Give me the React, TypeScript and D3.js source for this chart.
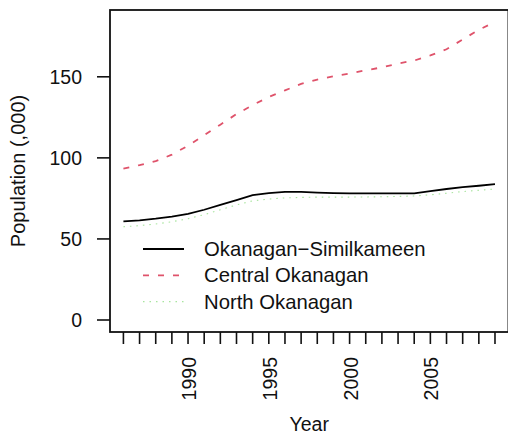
import React from "react";
import * as d3 from "d3";

const years = d3.range(1986, 2010);
const okanaganSimilkameen = [60.8, 61.5, 62.5, 63.8, 65.5, 68, 71, 74, 77, 78.3, 79, 79, 78.5, 78.2, 78.1, 78.1, 78.1, 78.1, 78.1, 79.5, 80.8, 82, 82.8, 83.8];
const centralOkanagan = [93.3, 95.5, 98, 102, 107.5, 114, 120.5, 127, 132.5, 137.6, 141.6, 145.6, 148.3, 150.4, 152, 154, 155.8, 158.2, 160, 163.2, 167, 173, 179, 183.8];
const northOkanagan = [57.5, 58.2, 59.2, 60.6, 62.5, 65, 68, 71, 73.5, 74.6, 75.3, 75.6, 75.8, 75.8, 75.8, 75.9, 76, 76.2, 76.5, 77.2, 78.2, 79.2, 80, 80.8];
const seriesNames = ["Okanagan\u2212Similkameen", "Central Okanagan", "North Okanagan"];
const seriesColors = ["#000000", "#DF536B", "#61D04F"];
const seriesDash = ["none", "6,9", "1.5,5"];
const seriesWidth = [1.8, 1.8, 1.1];
const seriesOpacity = [1, 1, 0.55];
const yTicks = [0, 50, 100, 150];
const xLabelTicks = [1990, 1995, 2000, 2005];

const W = 508;
const H = 437;
const FONT = "'Liberation Sans', Arial, Helvetica, sans-serif";

export default function App() {
  const left = 110, right = 508.4, top = 10, bottom = 332;
  const x = d3.scaleLinear().domain([1985.17, 2009.83]).range([left, right]);
  const y = d3.scaleLinear().domain([-7.4, 191.2]).range([bottom, top]);
  const allSeries = [okanaganSimilkameen, centralOkanagan, northOkanagan];
  const line = d3
    .line<number>()
    .x((_, i) => x(years[i]))
    .y((d) => y(d));
  const drawOrder = [0, 1, 2];
  return (
    <svg
      width={W}
      height={H}
      style={{ position: "absolute", left: 0, top: 0, background: "#fff" }}
      fontFamily={FONT}
    >
      <rect x={0} y={0} width={W} height={H} fill="#fff" />
      {drawOrder.map((k) => (
        <path
          key={k}
          d={line(allSeries[k]) || ""}
          fill="none"
          stroke={seriesColors[k]}
          strokeWidth={seriesWidth[k]}
          strokeOpacity={seriesOpacity[k]}
          strokeDasharray={seriesDash[k]}
        />
      ))}
      <rect x={left} y={top} width={right - left} height={bottom - top} fill="none" stroke="#111" strokeWidth={1.8} />
      {/* y axis */}
      {yTicks.map((t) => (
        <g key={t}>
          <line x1={97} x2={left} y1={y(t)} y2={y(t)} stroke="#111" strokeWidth={1.6} />
          <text x={82} y={y(t)} textAnchor="end" dominantBaseline="central" fontSize={19.5} fill="#111">
            {t}
          </text>
        </g>
      ))}
      <text
        transform={`translate(18,${(top + bottom) / 2}) rotate(-90)`}
        textAnchor="middle"
        dominantBaseline="central"
        fontSize={20}
        fill="#111"
      >
        Population (,000)
      </text>
      {/* x axis */}
      {years.map((yr) => (
        <line key={yr} x1={x(yr)} x2={x(yr)} y1={bottom} y2={344} stroke="#111" strokeWidth={1.6} />
      ))}
      {xLabelTicks.map((yr) => (
        <text
          key={yr}
          transform={`translate(${x(yr) + 1},357) rotate(-90)`}
          textAnchor="end"
          dominantBaseline="central"
          fontSize={19.5}
          fill="#111"
        >
          {yr}
        </text>
      ))}
      <text x={(left + right) / 2} y={431} textAnchor="middle" fontSize={19.5} fill="#111">
        Year
      </text>
      {/* legend */}
      {seriesNames.map((name, i) => {
        const ly = 249 + i * 26.3;
        return (
          <g key={name}>
            <line
              x1={143}
              x2={184}
              y1={ly}
              y2={ly}
              stroke={seriesColors[i]}
              strokeWidth={seriesWidth[i]}
              strokeOpacity={seriesOpacity[i]}
              strokeDasharray={seriesDash[i]}
            />
            <text x={204} y={ly} dominantBaseline="central" fontSize={20.3} fill="#111">
              {name}
            </text>
          </g>
        );
      })}
    </svg>
  );
}
